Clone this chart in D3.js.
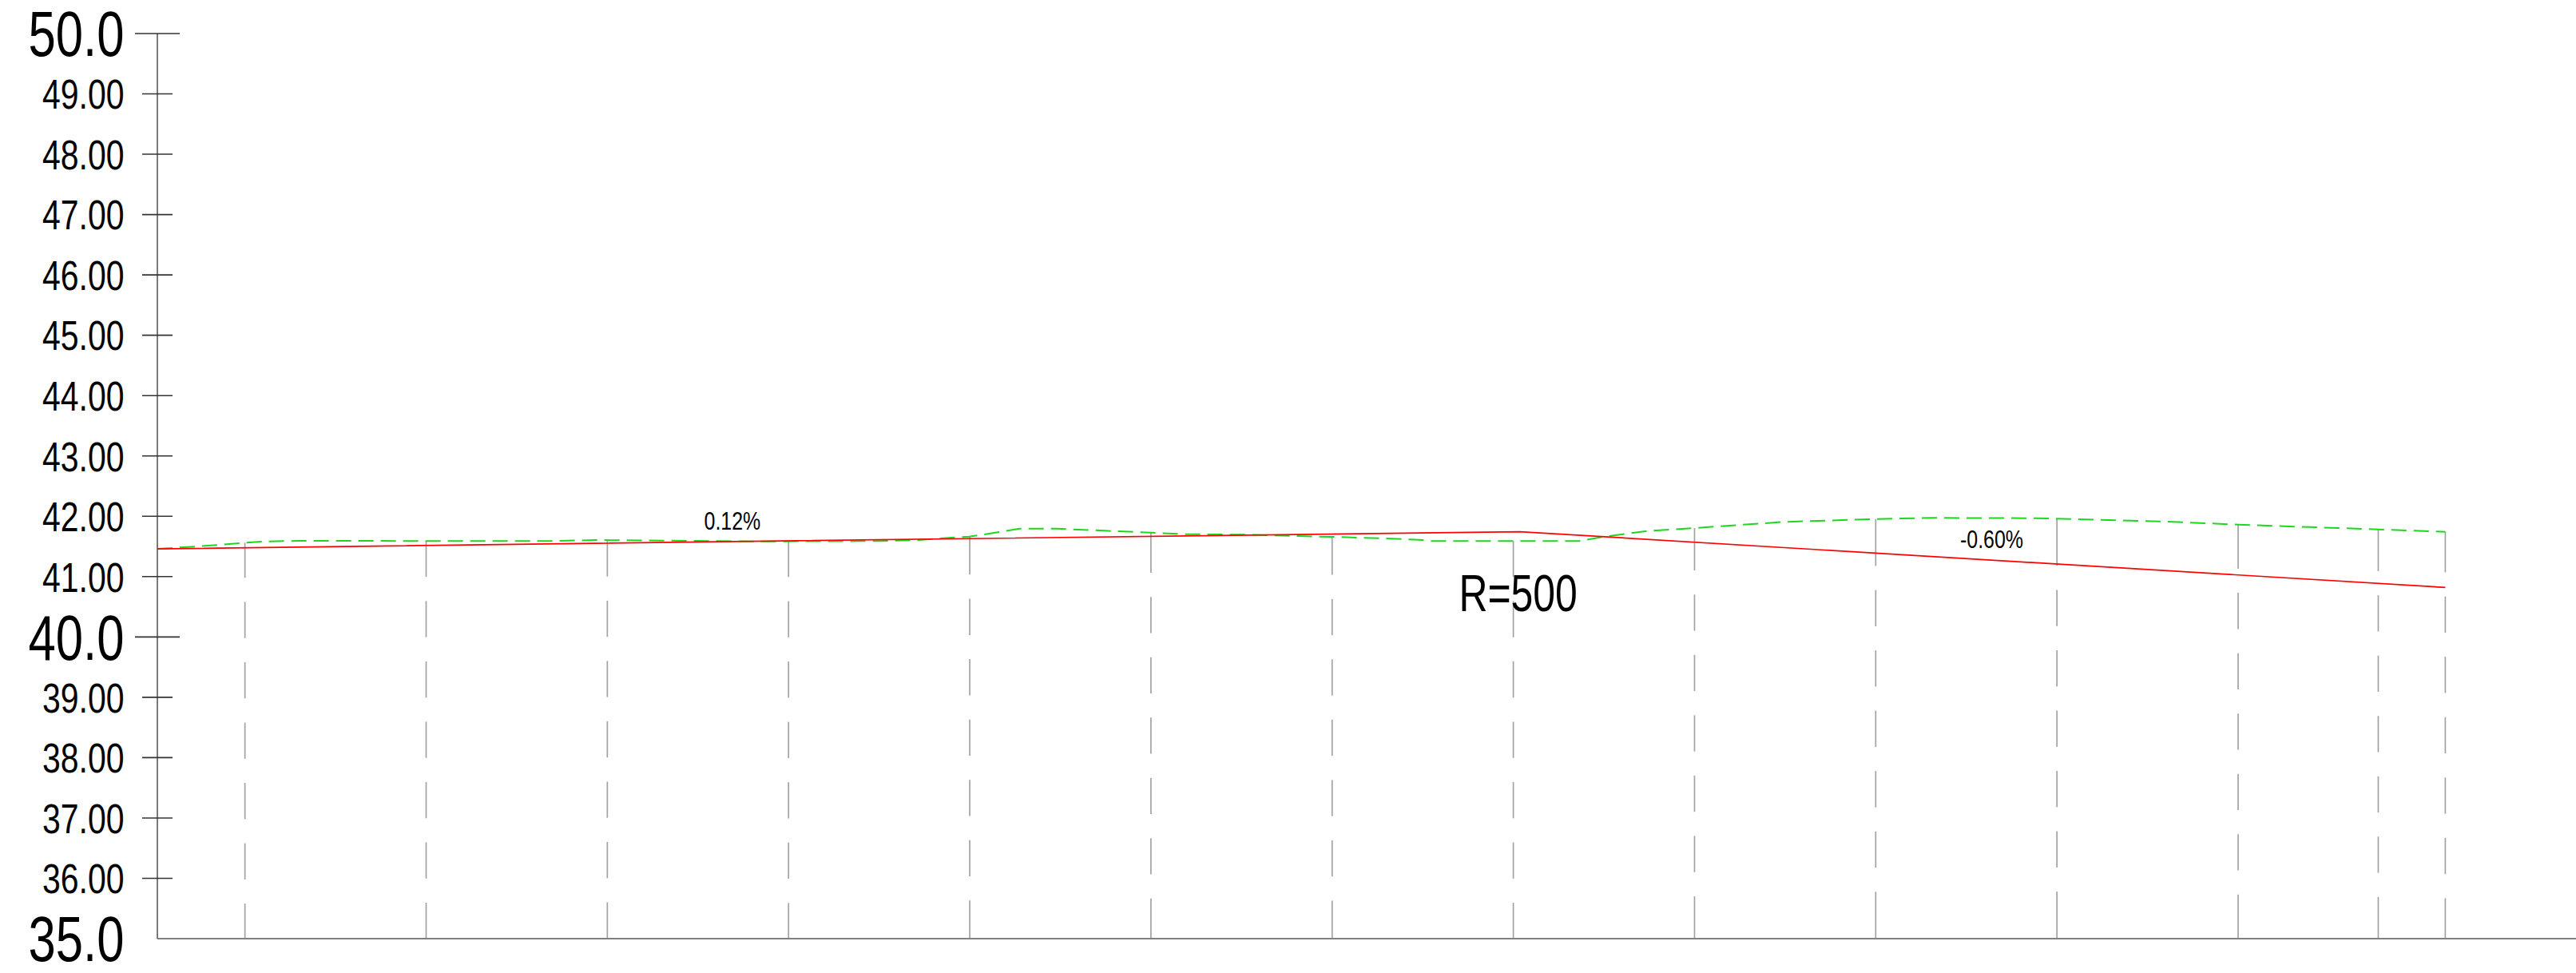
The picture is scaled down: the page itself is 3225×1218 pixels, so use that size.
<!DOCTYPE html>
<html>
<head>
<meta charset="utf-8">
<script src="https://cdn.jsdelivr.net/npm/d3@7"></script>
<style>
  html, body { margin: 0; padding: 0; background: #ffffff; }
  svg { display: block; }
  text { font-family: "Liberation Sans", Arial, sans-serif; fill: #000; }
</style>
</head>
<body>
<svg id="chart"></svg>
<script>
// ---------- data ----------
// elevation tick values (m)
const yTicks = [35, 36, 37, 38, 39, 40, 41, 42, 43, 44, 45, 46, 47, 48, 49, 50];
const majorTicks = [35, 40, 50];

// design grade line: station (m), elevation (m)
const designStations = [0, 225.6, 378.8];
const designElev     = [41.46, 41.745, 40.82];

// existing ground line: station (m), elevation (m)
const groundStations = [0, 7.9, 14.5, 17.6, 23.3, 65.2, 72.5, 83.7, 98.3, 119.4, 126.0, 129.1, 134.4, 137.5,
  142.8, 148.9, 156.8, 164.5, 170.1, 180.2, 187.8, 194.4, 202.3, 208.9, 211.1, 235.4, 238.8, 246.4,
  254.5, 269.3, 284.5, 293.6, 311.2, 333.7, 344.5, 367.7, 378.8];
const groundElev = [41.46, 41.509, 41.562, 41.583, 41.593, 41.589, 41.606, 41.597, 41.583, 41.589, 41.606, 41.629,
  41.663, 41.708, 41.795, 41.795, 41.761, 41.729, 41.703, 41.695, 41.676, 41.659, 41.637, 41.610, 41.589,
  41.589, 41.650, 41.752, 41.805, 41.907, 41.954, 41.973, 41.968, 41.907, 41.862, 41.782, 41.742];

// station lines (m)
const stationLines = [14.5, 44.5, 74.5, 104.5, 134.5, 164.5, 194.5, 224.5, 254.5, 284.5, 314.5, 344.5, 367.7, 378.8];

// annotations
const gradeLabels = ["0.12%", "-0.60%"];
const gradeLabelStations = [95.2, 303.7];
const gradeLabelElev = [41.782, 41.468];
const curveLabel = "R=500";
const curveLabelStation = 225.3;
const curveLabelElev = 40.428;

// ---------- layout ----------
const W = 3225, H = 1218;
const svg = d3.select("#chart").attr("width", W).attr("height", H);
svg.append("rect").attr("width", W).attr("height", H).attr("fill", "#fff");

const x = d3.scaleLinear().domain([0, 400]).range([197, 197 + 400 * 7.5617]);
const y = d3.scaleLinear().domain([35, 50]).range([1175, 42]);

const ground = groundStations.map((s, i) => [s, groundElev[i]]);
const design = designStations.map((s, i) => [s, designElev[i]]);
const groundAt = s => {
  for (let i = 0; i < ground.length - 1; i++) {
    const [s0, e0] = ground[i], [s1, e1] = ground[i + 1];
    if (s >= s0 && s <= s1) return e0 + (e1 - e0) * (s - s0) / (s1 - s0);
  }
  return ground[ground.length - 1][1];
};

// ---------- station lines (CAD style centred dashes) ----------
const gStations = svg.append("g");
const dashLen = y(35) - y(35.6), period = y(35) - y(36);
stationLines.forEach(s => {
  const y0 = y(groundAt(s)), y1 = y(35);
  const c = (y0 + y1) / 2;
  const segs = [];
  for (let k = -20; k <= 20; k++) {
    const m = c + k * period;
    let a = m - dashLen / 2, b = m + dashLen / 2;
    if (b <= y0 || a >= y1) continue;
    segs.push([Math.max(a, y0), Math.min(b, y1)]);
  }
  if (segs.length) { segs[0][0] = y0; segs[segs.length - 1][1] = y1; }
  segs.forEach(([a, b]) => {
    gStations.append("line")
      .attr("x1", x(s)).attr("x2", x(s)).attr("y1", a).attr("y2", b)
      .attr("stroke", "#a2a2a2").attr("stroke-width", 1.7);
  });
});

// ---------- axes ----------
const gAxis = svg.append("g");
gAxis.append("line").attr("x1", x(0)).attr("x2", x(0)).attr("y1", y(50)).attr("y2", y(35))
  .attr("stroke", "#7a7a7a").attr("stroke-width", 2);
gAxis.append("line").attr("x1", x(0)).attr("x2", W).attr("y1", y(35)).attr("y2", y(35))
  .attr("stroke", "#808080").attr("stroke-width", 2);

yTicks.forEach(v => {
  const major = majorTicks.includes(v);
  const half = major ? 28 : 19;
  if (v !== 35) {
    gAxis.append("line").attr("x1", x(0) - half).attr("x2", x(0) + half)
      .attr("y1", y(v)).attr("y2", y(v))
      .attr("stroke", "#333").attr("stroke-width", 1.6);
  }
  const fs = major ? 79 : 52.5;
  gAxis.append("text")
    .attr("transform", `translate(${x(0) - 41.5},${y(v)}) scale(0.78,1)`)
    .attr("text-anchor", "end")
    .attr("dy", "0.358em")
    .attr("font-size", fs)
    .text(major ? v.toFixed(1) : v.toFixed(2));
});

// ---------- lines ----------
const line = d3.line().x(d => x(d[0])).y(d => y(d[1]));
svg.append("path").datum(ground).attr("d", line)
  .attr("fill", "none").attr("stroke", "#1fd61f").attr("stroke-width", 2)
  .attr("stroke-dasharray", "19,9");
svg.append("path").datum(design).attr("d", line)
  .attr("fill", "none").attr("stroke", "#ff0000").attr("stroke-width", 1.7);

// ---------- annotations ----------
gradeLabels.forEach((t, i) => {
  svg.append("text")
    .attr("transform", `translate(${x(gradeLabelStations[i])},${y(gradeLabelElev[i])}) scale(0.78,1)`)
    .attr("text-anchor", "middle").attr("font-size", 32).text(t);
});
svg.append("text")
  .attr("transform", `translate(${x(curveLabelStation)},${y(curveLabelElev)}) scale(0.78,1)`)
  .attr("text-anchor", "middle").attr("font-size", 64).text(curveLabel);
</script>
</body>
</html>
